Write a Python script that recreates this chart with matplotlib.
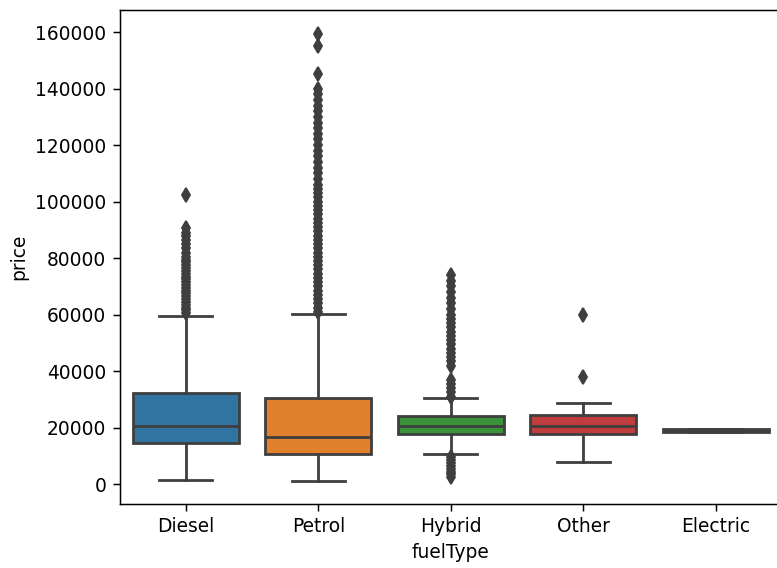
import matplotlib
matplotlib.use("Agg")
import matplotlib.pyplot as plt

# ---- data ----
categories = ["Diesel", "Petrol", "Hybrid", "Other", "Electric"]
q1 = [14600, 10600, 17700, 17600, 18500]
medians = [20500, 16700, 20600, 20600, 18700]
q3 = [32300, 30400, 24000, 24400, 19400]
whisker_low = [1400, 1000, 10600, 7800, 18400]
whisker_high = [59500, 60300, 30500, 28900, 19500]

diesel_outliers = [60500, 61500, 62500, 63500, 64500, 65500, 66500, 67500, 68500,
                   69500, 70500, 71500, 72500, 73500, 74500, 75500, 76500, 77500,
                   78500, 79500, 80500, 82000, 83500, 85000, 86500, 88000, 89000,
                   90500, 102500]
petrol_outliers = [61000, 62500, 64000, 65500, 67000, 68500, 70000, 71500, 73000,
                   74500, 76000, 77500, 79000, 80500, 82000, 83500, 85000, 86500,
                   88000, 89500, 91000, 92500, 94000, 95500, 97000, 98500, 100000,
                   101500, 103000, 104500, 106000, 108000, 110000, 112000, 114000,
                   116000, 118000, 120000, 122000, 124000, 126000, 128000, 130000,
                   132000, 134000, 136000, 138000, 140000, 145000, 155000, 159500]
hybrid_outliers = [2500, 3500, 4500, 5500, 6500, 7500, 8500, 9500,
                   31000, 32500, 34000, 35500, 37000, 42000, 43500, 45000, 46500,
                   48000, 49500, 51000, 52500, 54000, 55500, 57000, 58500, 60000,
                   62000, 64000, 66000, 68000, 70000, 72000, 74000]
other_outliers = [38000, 60000]
electric_outliers = []
outliers = [diesel_outliers, petrol_outliers, hybrid_outliers, other_outliers,
            electric_outliers]

colors = ["#3274a1", "#e1812c", "#3a923a", "#c03d3e", "#9372b2"]
gray = "#3f3f3f"

DPI = 134
fig = plt.figure(figsize=(777 / DPI, 568 / DPI), dpi=DPI)
ax = fig.add_axes([119.5 / 777, 64 / 568, (782 - 119.5) / 777, (558.5 - 64) / 568])

stats = []
for i, name in enumerate(categories):
    stats.append(dict(label=name, med=medians[i], q1=q1[i], q3=q3[i],
                      whislo=whisker_low[i], whishi=whisker_high[i],
                      fliers=outliers[i]))

lw = 1.5
bp = ax.bxp(stats, positions=range(len(categories)), widths=0.8,
            patch_artist=True, showfliers=True,
            boxprops=dict(edgecolor=gray, linewidth=lw),
            whiskerprops=dict(color=gray, linewidth=lw),
            capprops=dict(color=gray, linewidth=lw),
            medianprops=dict(color=gray, linewidth=lw),
            flierprops=dict(marker="d", markerfacecolor=gray,
                            markeredgecolor=gray, markersize=5, linestyle="none"))
for patch, c in zip(bp["boxes"], colors):
    patch.set_facecolor(c)

ax.set_xticks(range(len(categories)), categories)
ax.set_xlim(-0.5, len(categories) - 0.5)
ax.set_ylim(-7000, 168000)
ax.set_yticks(range(0, 160001, 20000))
ax.set_xlabel("fuelType")
ax.set_ylabel("price")
# the reference is cropped just before the right frame line
ax.spines["right"].set_visible(False)

fig.savefig("out.png", dpi=DPI)
